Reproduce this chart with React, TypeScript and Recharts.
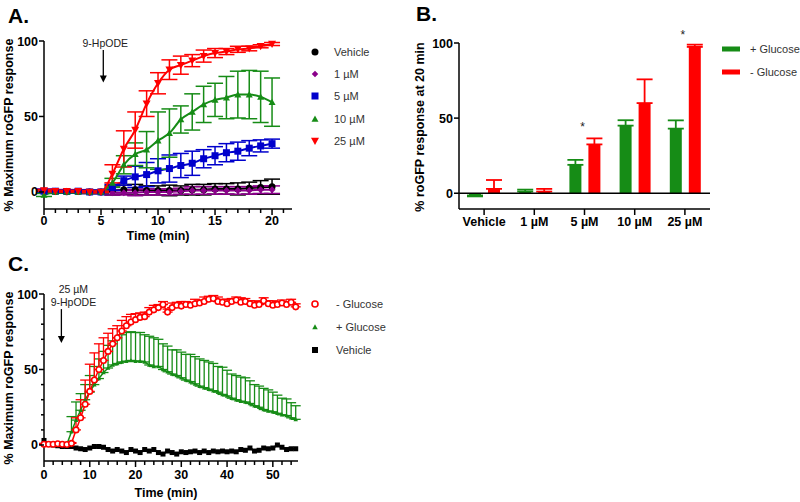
import React from "react";
import {
  LineChart,
  Line,
  BarChart,
  Bar,
  XAxis,
  YAxis,
  ErrorBar,
  ReferenceLine,
  ReferenceDot,
} from "recharts";

const FONT = '"Liberation Sans", Arial, Helvetica, sans-serif';

// ---- Panel A: dose response time course (0-20 min) ----
const timeA = [0, 1, 2, 3, 4, 5, 6, 7, 8, 9, 10, 11, 12, 13, 14, 15, 16, 17, 18, 19, 20];
const vehicleA = [0.5, 0.3, 0.2, 0.3, 0, 0, 1, 1.5, 1.5, 1, 1, 1, 1, 1.5, 1.5, 2, 2, 2, 2.5, 3, 3.5];
const vehicleAErr = [1, 1, 1, 1, 1, 1, 3, 3, 3.5, 3, 3, 3.5, 3, 3.5, 3.5, 3.5, 3.5, 4, 4, 4.5, 5];
const oneA = [1, 0.5, 0.5, 0.3, 0, 0, -0.5, -0.5, -0.5, 0, 0, 0, 0.5, 1, 1, 1, 1, 1, 1, 1.5, 1.5];
const oneAErr = [1, 1, 1, 1, 1, 1, 1.5, 1.5, 2, 2, 2, 2, 2, 2.5, 2.5, 2.5, 2.5, 2.5, 2.5, 2.5, 2.5];
const fiveA = [0.5, 0.5, 0.3, 0.5, 0, 0, 3, 7.5, 10, 11.5, 14, 15.5, 17.5, 19, 22, 24, 26, 27, 29, 30.5, 32];
const fiveAErr = [1, 1, 1, 1, 1, 1, 2, 3, 7, 8, 8, 9, 8, 8, 6, 6, 6, 6, 5, 4, 3];
const tenA = [-2, 0, 0, 0, 0, 0, 6, 18, 25, 28, 34, 39, 48, 53, 58, 61, 62.5, 64.5, 64.5, 63, 59.5];
const tenAErr = [1, 0.5, 0.5, 0.5, 0.5, 0.5, 3, 6, 7.5, 12, 19, 16, 9, 12, 12, 11, 14, 15.5, 16, 17, 16];
const twentyFiveA = [1, 0.5, 0.5, 0.5, 0, 0, 12, 28.5, 41, 58.5, 72, 81, 84, 87, 90, 92, 93, 94.5, 95, 96.5, 98];
const twentyFiveAErr = [0.5, 0.5, 0.5, 0.5, 0.5, 0.5, 6, 12, 12, 8.5, 7, 6.5, 6, 4, 4, 3, 2, 2, 1.5, 1, 1];
const ticksA = [0, 1, 2, 3, 4, 5, 6, 7, 8, 9, 10, 11, 12, 13, 14, 15, 16, 17, 18, 19, 20, 21];
const labelsA = [0, 5, 10, 15, 20];

// ---- Panel B: response at 20 min ----
const doseLabels = ["Vehicle", "1 µM", "5 µM", "10 µM", "25 µM"];
const plusGlucoseB = [-1.5, 1.1, 18.9, 45, 43];
const plusGlucoseBErr = [0.6, 1.3, 3.3, 3.6, 5.5];
const minusGlucoseB = [2.9, 1.1, 32.5, 60, 97.4];
const minusGlucoseBErr = [5.9, 1.8, 4, 15.8, 1.5];
const starDoses = ["5 µM", "25 µM"];
const starY = [45, 106];

// ---- Panel C: 25 µM, long time course ----
const timeC = [
  0, 1, 2, 3, 4, 5, 6, 7, 8, 9, 10, 11, 12, 13, 14, 15, 16, 17, 18, 19, 20, 21, 22, 23, 24, 25, 26, 27,
  28, 29, 30, 31, 32, 33, 34, 35, 36, 37, 38, 39, 40, 41, 42, 43, 44, 45, 46, 47, 48, 49, 50, 51, 52, 53, 54, 55,
];
const minusGlucoseC = [
  0.5, 0.5, 0.5, 0.8, 0.5, 0.3, 1.1, 10, 18, 27,
  35.5, 43, 50, 56, 62, 67, 71, 75.5, 79, 81.5,
  83, 84.5, 85, 88, 89.5, 91, 93, 88, 91, 92.5,
  92, 93, 92.5, 93.5, 94, 95, 96.5, 97, 95, 94.5,
  93.5, 95, 96, 94.5, 95, 93.5, 92.5, 93, 95.5, 93.5,
  92.5, 93, 94, 93, 94.5, 91.5,
];
const minusGlucoseCErr = [
  0.5, 0.5, 0.5, 0.5, 0.5, 0.5, 0.5, 8, 12, 16,
  18, 18, 17, 15, 12, 10, 8, 7, 6, 5,
  4, 3, 3, 3, 3, 2, 2, 2, 3, 2,
  3, 2, 2, 3, 2, 3, 2, 2, 3, 2,
  3, 2, 2, 3, 2, 2, 3, 2, 2, 2,
  3, 2, 2, 2, 2, 2,
];
const plusGlucoseC = [
  0.5, 0.5, 0.3, 0.2, 0, 0.5, 8.8, 16.5, 23, 30,
  35, 40, 44, 48, 51, 53, 54, 55, 55.5, 56,
  55.5, 55.5, 55, 53, 52, 52, 50, 48.5, 47, 46,
  44.5, 43, 42, 40.5, 39, 38, 37, 36, 35, 33.5,
  32.5, 31, 30, 29, 28.5, 27.5, 26, 25, 23.5, 22.5,
  22, 21, 20, 19.5, 18, 17,
];
const plusGlucoseCErr = [
  0.5, 0.5, 0.5, 0.5, 0.5, 0.5, 10, 12, 11, 10,
  11, 12, 13, 14, 15, 16, 17, 18, 19, 19,
  19, 19, 18, 19, 19, 18, 17, 17, 16, 17,
  17, 17, 18, 18, 18, 18, 18, 18, 17, 18,
  17, 16, 16, 16, 16, 15, 14, 14, 14, 14,
  13, 12, 11, 11, 10, 9,
];
const vehicleC = [
  3, 0.5, 0, -0.5, -1, -1, -1, -2, -2.5, -3,
  -2, -1, -1, -1.5, -3, -4, -3, -4, -5, -3,
  -4, -5, -3, -4, -3, -5, -6, -4, -5, -6,
  -4.5, -5, -4.5, -4, -5, -4, -5, -4, -4.5, -4,
  -4.5, -4, -4.5, -3, -3.5, -2, -4, -3.5, -2, -2.5,
  -2, 0, -1.5, -3, -2.5, -2.5,
];
const ticksCX = [0, 2, 4, 6, 8, 10, 12, 14, 16, 18, 20, 22, 24, 26, 28, 30, 32, 34, 36, 38, 40, 42, 44, 46, 48, 50, 52, 54];
const labelsCX = [0, 10, 20, 30, 40, 50];
const ticksCY = [0, 10, 20, 30, 40, 50, 60, 70, 80, 90, 100];
const labelsY = [0, 50, 100];

const RED = "#ff0000";
const GREEN = "#168c16";
const BLUE = "#0000cc";
const PURPLE = "#8b008b";
const BLACK = "#000000";

const dataA = timeA.map((t, i) => ({
  t,
  vehicle: vehicleA[i],
  vehicleErr: vehicleAErr[i],
  one: oneA[i],
  oneErr: oneAErr[i],
  five: fiveA[i],
  fiveErr: fiveAErr[i],
  ten: tenA[i],
  tenErr: tenAErr[i],
  tf: twentyFiveA[i],
  tfErr: twentyFiveAErr[i],
}));

const dataB = doseLabels.map((d, i) => ({
  dose: d,
  plus: plusGlucoseB[i],
  plusErr: plusGlucoseB[i] < 0 ? [plusGlucoseBErr[i], 0] : [0, plusGlucoseBErr[i]],
  minus: minusGlucoseB[i],
  minusErr: [0, minusGlucoseBErr[i]],
}));

const dataC = timeC.map((t, i) => ({
  t,
  minus: minusGlucoseC[i],
  minusErr: [0, minusGlucoseCErr[i]],
  plus: plusGlucoseC[i],
  plusErr: [0, plusGlucoseCErr[i]],
  vehicle: vehicleC[i],
}));

const seriesA = [
  { key: "vehicle", name: "Vehicle", color: BLACK, kind: "circle", size: 7 },
  { key: "one", name: "1 µM", color: PURPLE, kind: "diamond", size: 7 },
  { key: "five", name: "5 µM", color: BLUE, kind: "square", size: 7 },
  { key: "ten", name: "10 µM", color: GREEN, kind: "triangle", size: 7 },
  { key: "tf", name: "25 µM", color: RED, kind: "triangleDown", size: 8 },
];

function Marker({ kind, cx, cy, color, size }: any) {
  const h = size / 2;
  switch (kind) {
    case "circle":
      return <circle cx={cx} cy={cy} r={h} fill={color} />;
    case "ring":
      return <circle cx={cx} cy={cy} r={h} fill="#fff" stroke={color} strokeWidth={1.6} />;
    case "square":
      return <rect x={cx - h} y={cy - h} width={size} height={size} fill={color} />;
    case "diamond":
      return <polygon points={`${cx},${cy - h} ${cx + h},${cy} ${cx},${cy + h} ${cx - h},${cy}`} fill={color} />;
    case "triangle":
      return <polygon points={`${cx},${cy - h} ${cx + h},${cy + h * 0.8} ${cx - h},${cy + h * 0.8}`} fill={color} />;
    case "triangleDown":
      return <polygon points={`${cx},${cy + h} ${cx + h},${cy - h * 0.8} ${cx - h},${cy - h * 0.8}`} fill={color} />;
    case "bar":
      return <rect x={cx - 9} y={cy - 2.5} width={18} height={5} fill={color} />;
    default:
      return null;
  }
}

const dotOf = (kind: string, color: string, size: number) => (p: any) =>
  <Marker key={`d-${p.index}`} kind={kind} cx={p.cx} cy={p.cy} color={color} size={size} />;

function BottomTick(props: any) {
  const { x, y, payload, labelled, gap } = props;
  const show = labelled ? labelled.includes(payload.value) : true;
  return (
    <g>
      <line x1={x} y1={y} x2={x} y2={y + (show ? 6 : 4)} stroke="#000" strokeWidth={1.5} />
      {show && (
        <text x={x} y={y + gap} textAnchor="middle" fontSize={12.5} fontWeight="bold" fill="#000" fontFamily={FONT}>
          {payload.value}
        </text>
      )}
    </g>
  );
}

function LeftTick(props: any) {
  const { x, y, payload } = props;
  const show = labelsY.includes(payload.value);
  return (
    <g>
      <line x1={x - (show ? 5 : 3)} y1={y} x2={x} y2={y} stroke="#000" strokeWidth={1.5} />
      {show && (
        <text x={x - 6} y={y + 4.5} textAnchor="end" fontSize={12.5} fontWeight="bold" fill="#000" fontFamily={FONT}>
          {payload.value}
        </text>
      )}
    </g>
  );
}

const arrowShape = (lines: string[], dx: number) => (p: any) => {
  const { x1, y1, x2, y2 } = p;
  return (
    <g>
      <line x1={x1} y1={y1} x2={x2} y2={y2 - 6} stroke="#000" strokeWidth={1.3} />
      <polygon points={`${x2 - 3.5},${y2 - 7} ${x2 + 3.5},${y2 - 7} ${x2},${y2}`} fill="#000" />
      {lines.map((s, i) => (
        <text
          key={s}
          x={x1 + dx}
          y={y1 - 3 - (lines.length - 1 - i) * 13}
          textAnchor="middle"
          fontSize={10.5}
          fill="#222"
          fontFamily={FONT}
        >
          {s}
        </text>
      ))}
    </g>
  );
};

function PanelLetter({ text, x, y }: any) {
  return (
    <div style={{ position: "absolute", left: x, top: y, fontSize: 21, fontWeight: "bold", lineHeight: "21px" }}>
      {text}
    </div>
  );
}

function AxisTitle({ text, cx, cy, vertical }: any) {
  return (
    <div
      style={{
        position: "absolute",
        left: cx,
        top: cy,
        transform: `translate(-50%, -50%)${vertical ? " rotate(-90deg)" : ""}`,
        whiteSpace: "nowrap",
        fontSize: 12.5,
        fontWeight: "bold",
        lineHeight: "11px",
      }}
    >
      {text}
    </div>
  );
}

function LegendItem({ x, y, textX, kind, color, size, label }: any) {
  return (
    <>
      <svg style={{ position: "absolute", left: x - 12, top: y - 12 }} width={24} height={24}>
        <Marker kind={kind} cx={12} cy={12} color={color} size={size} />
      </svg>
      <div style={{ position: "absolute", left: textX, top: y - 7, fontSize: 11, lineHeight: "14px", color: "#333" }}>
        {label}
      </div>
    </>
  );
}

const axisLine = { stroke: "#000", strokeWidth: 1.5 };

export default function App() {
  return (
    <div
      style={{
        position: "absolute",
        left: 0,
        top: 0,
        width: 800,
        height: 502,
        background: "#fff",
        fontFamily: FONT,
        color: "#000",
        overflow: "hidden",
      }}
    >
      {/* Panel A */}
      <PanelLetter text="A." x={8} y={5} />
      <div style={{ position: "absolute", left: 0, top: 0 }}>
        <LineChart width={300} height={245} data={dataA} margin={{ top: 41, right: 8, bottom: 0, left: 0 }}>
          <XAxis
            dataKey="t"
            type="number"
            domain={[0, 21.75]}
            ticks={ticksA}
            interval={0}
            height={36}
            tickSize={0}
            tickMargin={0}
            tickLine={false}
            axisLine={axisLine}
            tick={(p: any) => <BottomTick {...p} labelled={labelsA} gap={15.5} />}
          />
          <YAxis
            type="number"
            domain={[-11.3, 100]}
            ticks={labelsY}
            interval={0}
            width={44}
            tickSize={0}
            tickMargin={0}
            tickLine={false}
            axisLine={axisLine}
            tick={(p: any) => <LeftTick {...p} />}
          />
          {seriesA.map((s) => (
            <Line
              key={s.key}
              dataKey={s.key}
              type="monotone"
              stroke={s.color}
              strokeWidth={2}
              dot={dotOf(s.kind, s.color, s.size)}
              activeDot={false}
              isAnimationActive={false}
            >
              <ErrorBar dataKey={`${s.key}Err`} direction="y" width={8} stroke={s.color} strokeWidth={1.5} isAnimationActive={false} />
            </Line>
          ))}
          <ReferenceLine
            segment={[
              { x: 5.2, y: 94 },
              { x: 5.2, y: 72.5 },
            ]}
            shape={arrowShape(["9-HpODE"], 2)}
          />
        </LineChart>
      </div>
      <AxisTitle text="% Maximum roGFP response" cx={9} cy={125} vertical />
      <AxisTitle text="Time (min)" cx={158} cy={235.5} />
      {seriesA.map((s, i) => (
        <LegendItem
          key={s.key}
          x={315}
          y={52 + i * 22.2}
          textX={334}
          kind={s.kind}
          color={s.color}
          size={s.kind === "diamond" ? 6.5 : s.size}
          label={s.name}
        />
      ))}

      {/* Panel B */}
      <PanelLetter text="B." x={416} y={3} />
      <div style={{ position: "absolute", left: 400, top: 0 }}>
        <BarChart
          width={315}
          height={245}
          data={dataB}
          margin={{ top: 43, right: 5, bottom: 0, left: 0 }}
          barSize={12}
          barGap={7}
        >
          <XAxis
            dataKey="dose"
            height={36}
            interval={0}
            tickSize={0}
            tickMargin={0}
            tickLine={false}
            axisLine={axisLine}
            tick={(p: any) => <BottomTick {...p} gap={16.5} />}
          />
          <YAxis
            type="number"
            domain={[-10.5, 100]}
            ticks={labelsY}
            interval={0}
            width={59}
            tickSize={0}
            tickMargin={0}
            tickLine={false}
            axisLine={axisLine}
            tick={(p: any) => <LeftTick {...p} />}
          />
          <Bar dataKey="plus" fill={GREEN} isAnimationActive={false}>
            <ErrorBar dataKey="plusErr" direction="y" width={8} stroke={GREEN} strokeWidth={1.8} isAnimationActive={false} />
          </Bar>
          <Bar dataKey="minus" fill={RED} isAnimationActive={false}>
            <ErrorBar dataKey="minusErr" direction="y" width={8} stroke={RED} strokeWidth={1.8} isAnimationActive={false} />
          </Bar>
          <ReferenceLine y={0} stroke="#000" strokeWidth={1.5} />
          {starDoses.map((d, i) => (
            <ReferenceDot
              key={d}
              x={d}
              y={starY[i]}
              ifOverflow="visible"
              shape={(p: any) => (
                <text x={p.cx - 2} y={p.cy + 5} textAnchor="middle" fontSize={12} fill="#222" fontFamily={FONT}>
                  *
                </text>
              )}
            />
          ))}
        </BarChart>
      </div>
      <AxisTitle text="% roGFP response at 20 min" cx={420} cy={127} vertical />
      <LegendItem x={731} y={49} textX={750} kind="bar" color={GREEN} size={5} label="+ Glucose" />
      <LegendItem x={731} y={71.5} textX={750} kind="bar" color={RED} size={5} label="- Glucose" />

      {/* Panel C */}
      <PanelLetter text="C." x={8} y={253} />
      <div style={{ position: "absolute", left: 0, top: 250 }}>
        <LineChart width={305} height={252} data={dataC} margin={{ top: 44, right: 7, bottom: 0, left: 0 }}>
          <XAxis
            dataKey="t"
            type="number"
            domain={[0, 55.5]}
            ticks={ticksCX}
            interval={0}
            height={41}
            tickSize={0}
            tickMargin={0}
            tickLine={false}
            axisLine={axisLine}
            tick={(p: any) => <BottomTick {...p} labelled={labelsCX} gap={17.5} />}
          />
          <YAxis
            type="number"
            domain={[-10.6, 100]}
            ticks={ticksCY}
            interval={0}
            width={44}
            tickSize={0}
            tickMargin={0}
            tickLine={false}
            axisLine={axisLine}
            tick={(p: any) => <LeftTick {...p} />}
          />
          <Line
            dataKey="vehicle"
            type="linear"
            stroke={BLACK}
            strokeWidth={2}
            dot={dotOf("square", BLACK, 5)}
            activeDot={false}
            isAnimationActive={false}
          />
          <Line
            dataKey="plus"
            type="linear"
            stroke={GREEN}
            strokeWidth={1.5}
            dot={dotOf("triangle", GREEN, 4.5)}
            activeDot={false}
            isAnimationActive={false}
          >
            <ErrorBar dataKey="plusErr" direction="y" width={5} stroke={GREEN} strokeWidth={1.3} isAnimationActive={false} />
          </Line>
          <Line
            dataKey="minus"
            type="linear"
            stroke={RED}
            strokeWidth={1.5}
            dot={dotOf("ring", RED, 5.5)}
            activeDot={false}
            isAnimationActive={false}
          >
            <ErrorBar dataKey="minusErr" direction="y" width={5} stroke={RED} strokeWidth={1.3} isAnimationActive={false} />
          </Line>
          <ReferenceLine
            segment={[
              { x: 3.8, y: 90 },
              { x: 3.8, y: 67.5 },
            ]}
            shape={arrowShape(["25 µM", "9-HpODE"], 12)}
          />
        </LineChart>
      </div>
      <AxisTitle text="% Maximum roGFP response" cx={9} cy={378} vertical />
      <AxisTitle text="Time (min)" cx={166} cy={493} />
      <LegendItem x={315} y={304} textX={336} kind="ring" color={RED} size={6} label="- Glucose" />
      <LegendItem x={315} y={327} textX={336} kind="triangle" color={GREEN} size={5.5} label="+ Glucose" />
      <LegendItem x={315} y={350} textX={336} kind="square" color={BLACK} size={6} label="Vehicle" />
    </div>
  );
}
